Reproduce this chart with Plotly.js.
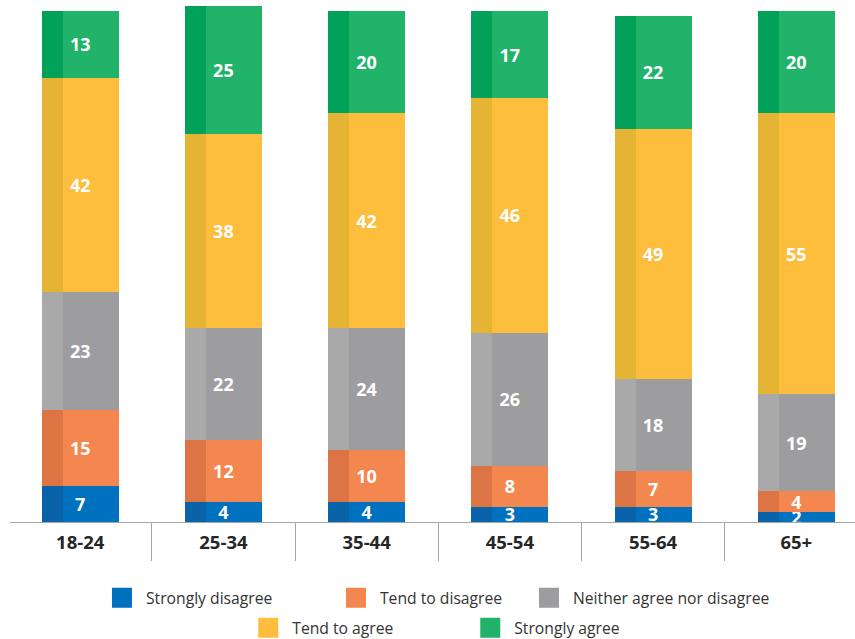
<!DOCTYPE html>
<html><head><meta charset="utf-8">
<script src="https://cdn.plot.ly/plotly-3.0.1.min.js"></script>
<style>html,body{margin:0;padding:0;background:#fff}#chart{width:855px;height:639px}</style>
</head><body><div id="chart"></div>
<script>
const ageGroups = ['18-24','25-34','35-44','45-54','55-64','65+'];
const stronglyDisagree = [7,4,4,3,3,2];
const tendToDisagree = [15,12,10,8,7,4];
const neitherAgree = [23,22,24,26,18,19];
const tendToAgree = [42,38,42,46,49,55];
const stronglyAgree = [13,25,20,17,22,20];
const seriesNames = ['Strongly disagree','Tend to disagree','Neither agree nor disagree','Tend to agree','Strongly agree'];
const seriesValues = [stronglyDisagree, tendToDisagree, neitherAgree, tendToAgree, stronglyAgree];
const mainColors = ['#0071bf','#f4864f','#9d9d9f','#fdbe3e','#22b36b'];
const stripColors = ['#0a62a8','#dc7443','#a9a9aa','#e6b435','#02a15a'];
const legendIds = ['legend','legend','legend','legend2','legend2'];
const legendWidths = [181,140,undefined,169,undefined];

const traces = [];
seriesValues.forEach((vals,i)=>{
  traces.push({
    type:'bar', x:ageGroups, y:vals, name:seriesNames[i],
    marker:{color:mainColors[i], line:{width:0}}, width:0.538,
    text:vals.map(String), textposition:'inside', insidetextanchor:'middle', textangle:0,
    constraintext:'none',
    textfont:{family:'Open Sans', size:18, color:'#ffffff', weight:'bold'},
    hoverinfo:'skip', showlegend:false, xaxis:'x', yaxis:'y'
  });
});
seriesValues.forEach((vals,i)=>{
  traces.push({
    type:'bar', x:ageGroups, y:vals, name:seriesNames[i],
    marker:{color:stripColors[i], line:{width:0}}, width:0.147, offset:-0.269,
    hoverinfo:'skip', showlegend:false, xaxis:'x2', yaxis:'y'
  });
});
seriesNames.forEach((nm,i)=>{
  const t = {
    type:'scatter', mode:'markers', x:[null], y:[null], name:nm,
    marker:{symbol:'square', size:16, color:mainColors[i], line:{color:mainColors[i], width:4}},
    showlegend:true, legend:legendIds[i], hoverinfo:'skip', xaxis:'x', yaxis:'y'
  };
  if (legendWidths[i] !== undefined) t.legendwidth = legendWidths[i];
  traces.push(t);
});

const xr = [-0.49, 5.41];
const legendFont = {family:'Open Sans', size:15.7, color:'#333333'};
const layout = {
  width:855, height:639,
  margin:{l:10, r:0, t:6, b:117},
  barmode:'stack', bargap:0,
  paper_bgcolor:'#ffffff', plot_bgcolor:'#ffffff',
  font:{family:'Open Sans', color:'#333333'},
  xaxis:{type:'category', categoryorder:'array', categoryarray:ageGroups, range:xr,
    showline:true, linecolor:'#a6a6a6', linewidth:1, ticks:'', showgrid:false, zeroline:false,
    tickfont:{family:'Open Sans', size:18.5, color:'#262626', weight:'bold'}, ticklabelstandoff:4, fixedrange:true},
  xaxis2:{type:'category', categoryorder:'array', categoryarray:ageGroups, range:xr, overlaying:'x', side:'bottom',
    showticklabels:false, ticks:'outside', tickson:'boundaries', ticklen:38, tickcolor:'#a6a6a6', tickwidth:1,
    showgrid:false, showline:false, zeroline:false, fixedrange:true},
  yaxis:{range:[0,101], visible:false, fixedrange:true},
  legend:{orientation:'h', traceorder:'normal', itemwidth:38, xref:'container', x:0.5105, xanchor:'center', yref:'container', y:1-598/639, yanchor:'middle',
    font:legendFont, itemclick:false, itemdoubleclick:false, bgcolor:'rgba(0,0,0,0)'},
  legend2:{orientation:'h', traceorder:'normal', itemwidth:38, xref:'container', x:0.5085, xanchor:'center', yref:'container', y:1-628/639, yanchor:'middle',
    font:legendFont, itemclick:false, itemdoubleclick:false, bgcolor:'rgba(0,0,0,0)'}
};
Plotly.newPlot('chart', traces, layout, {displayModeBar:false, staticPlot:true});
</script>
</body></html>
